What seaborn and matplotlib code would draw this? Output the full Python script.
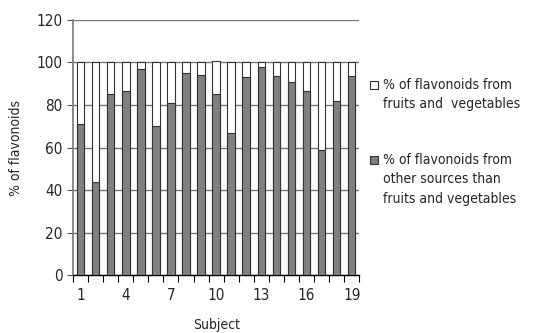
import numpy as np
import pandas as pd
import seaborn as sns
import matplotlib.pyplot as plt
from matplotlib.patches import Rectangle

# values
subjects = [str(i) for i in range(1, 20)]
other = [71, 43.6, 85.2, 86.8, 96.9, 69.9, 81.1, 95, 94.3, 85.4,
         66.9, 93.1, 98, 93.7, 90.9, 86.6, 58.9, 81.9, 93.7]
fruit = [100 - v for v in other]
fruit[9] = 15.2  # bar 10 sits a hair above 100

labels = ['% of flavonoids from\nfruits and  vegetables',
          '% of flavonoids from\nother sources than\nfruits and vegetables']
colors = ['white', '#808080']

df = pd.DataFrame({'Subject': subjects, 'other': other, 'fruit': fruit})
df['total'] = df['other'] + df['fruit']

sns.set_style('white')
plt.rcParams['font.family'] = ['DejaVu Sans']
plt.rcParams['font.stretch'] = 'condensed'

fig = plt.figure(figsize=(5.33, 3.33), dpi=100)
ax = fig.add_axes([0.137, 0.174, 0.537, 0.766])

sns.barplot(data=df, x='Subject', y='total', color=colors[0], edgecolor='#333333',
            linewidth=0.8, width=0.5, saturation=1, ax=ax, zorder=3)
sns.barplot(data=df, x='Subject', y='other', color=colors[1], edgecolor='#333333',
            linewidth=0.8, width=0.5, saturation=1, ax=ax, zorder=3)

ax.set_ylim(0, 120)
ax.set_xlim(-0.5, 18.5)
ax.set_yticks(np.arange(0, 121, 20))
ax.yaxis.grid(True, color='#777777', linewidth=1.0, zorder=0)
ax.set_axisbelow(True)

ax.set_xticks(range(0, 19, 3))
ax.set_xticklabels(subjects[::3])
ax.set_xticks(np.arange(-0.5, 19, 1), minor=True)
ax.tick_params(axis='x', which='major', length=0, pad=9, labelsize=11)
ax.tick_params(axis='x', which='minor', length=5, width=0.8, color='black', direction='out', bottom=True)
ax.tick_params(axis='y', length=4, width=0.8, color='#555555', direction='out', left=True, labelsize=11)

for s in ['top', 'right']:
    ax.spines[s].set_visible(False)
ax.spines['left'].set_color('#777777')
ax.spines['left'].set_linewidth(1.2)
ax.spines['bottom'].set_color('black')
ax.spines['bottom'].set_linewidth(1.0)

ax.set_xlabel('Subject', fontsize=10, labelpad=11)
ax.set_ylabel('% of flavonoids', fontsize=10, labelpad=10)

# legend: square beside the first line of each label
for lab, col, ytop in zip(labels, colors, [0.766, 0.541]):
    fig.patches.append(Rectangle((0.694, ytop - 0.033), 0.015, 0.024, transform=fig.transFigure,
                                 facecolor=col, edgecolor='#333333', linewidth=0.8))
    fig.text(0.719, ytop, lab, fontsize=10, va='top', ha='left', linespacing=1.5)

fig.savefig('out.png', dpi=100)
